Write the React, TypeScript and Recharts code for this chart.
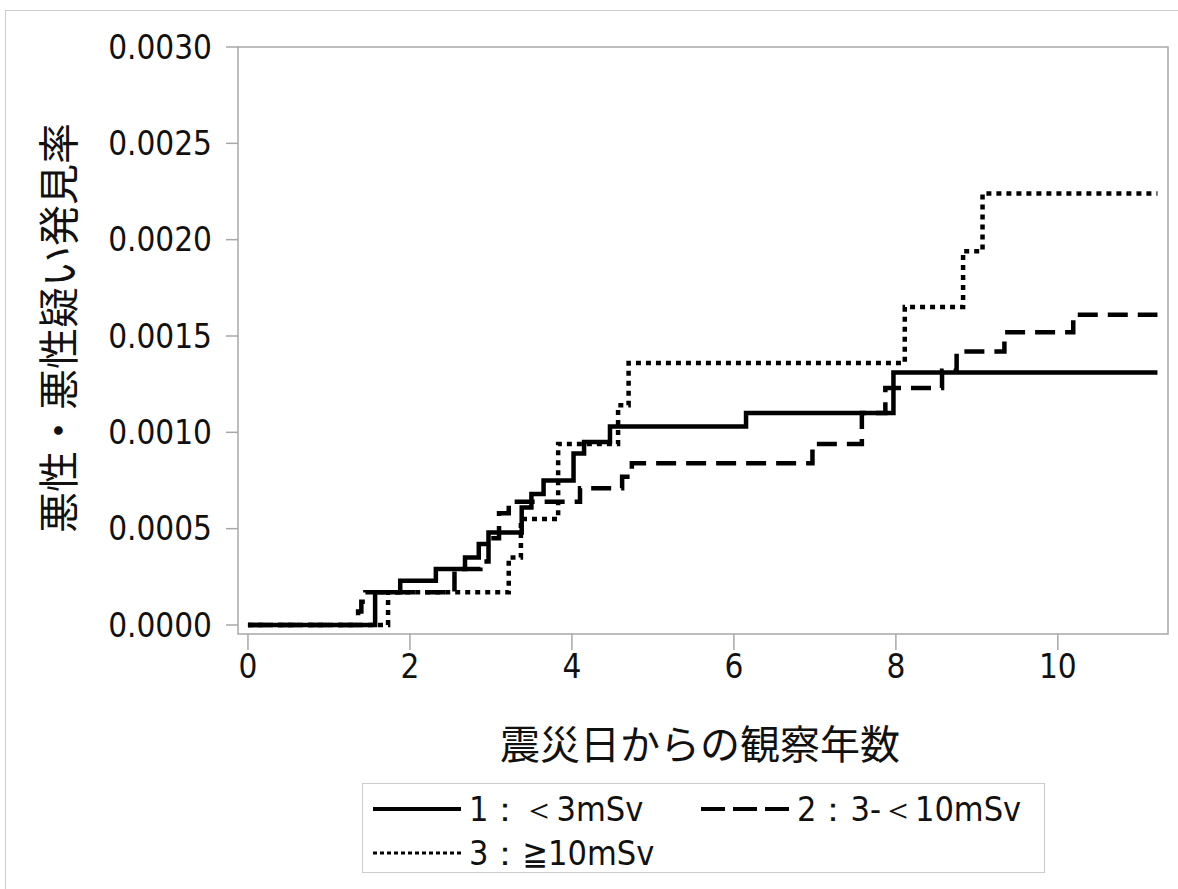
import React from 'react';
import { LineChart, Line, XAxis, YAxis, ReferenceArea } from 'recharts';

// group 1: <3mSv (solid)
const times1 = [0, 1.57, 1.88, 2.32, 2.68, 2.85, 2.97, 3.38, 3.5, 3.65, 4.02, 4.15, 4.47, 6.15, 7.97, 11.23];
const rates1 = [0, 0.00017, 0.00023, 0.00029, 0.00035, 0.00042, 0.00048, 0.00061, 0.00068, 0.00075, 0.00089, 0.00095, 0.00103, 0.0011, 0.00131, 0.00131];

// group 2: 3-<10mSv (dashed)
const times2 = [0, 1.36, 1.4, 1.45, 2.55, 2.87, 2.97, 3.1, 3.22, 4.1, 4.62, 4.74, 6.97, 7.58, 7.87, 8.57, 8.75, 9.34, 10.19, 11.23];
const rates2 = [0, 0.00007, 0.00012, 0.00017, 0.00029, 0.00033, 0.00045, 0.00058, 0.00064, 0.00071, 0.00077, 0.00084, 0.00094, 0.0011, 0.00123, 0.00132, 0.00142, 0.00152, 0.00161, 0.00161];

// group 3: >=10mSv (dotted)
const times3 = [0, 1.73, 3.22, 3.37, 3.83, 4.57, 4.7, 8.11, 8.83, 9.07, 11.23];
const rates3 = [0, 0.00017, 0.00035, 0.00055, 0.00094, 0.00114, 0.00136, 0.00165, 0.00194, 0.00224, 0.00224];

const xTicks = [0, 2, 4, 6, 8, 10];
const yTicks = [0, 0.0005, 0.001, 0.0015, 0.002, 0.0025, 0.003];

const legendLabels = ['1：＜3mSv', '2：3-＜10mSv', '3：≧10mSv'];

const X_DOMAIN: [number, number] = [-0.123, 11.36];
const Y_DOMAIN: [number, number] = [-0.0000468, 0.003];

const toSeries = (ts: number[], rs: number[]) => ts.map((t, i) => ({ t, rate: rs[i] }));

const tickFont = "'Liberation Sans Narrow', 'DejaVu Sans Condensed', 'Liberation Sans', sans-serif";
const jpFont = "'Noto Sans CJK JP', sans-serif";
const grey = '#a8a8a8';

function Sample({ dash, width = 4 }: { dash?: string; width?: number }) {
  return (
    <svg width={88} height={10} style={{ display: 'block' }}>
      <line x1={0} y1={5} x2={88} y2={5} stroke="#000" strokeWidth={width} strokeDasharray={dash} />
    </svg>
  );
}

export default function App() {
  const s1 = toSeries(times1, rates1);
  const s2 = toSeries(times2, rates2);
  const s3 = toSeries(times3, rates3);

  const legendText: React.CSSProperties = { fontFamily: tickFont, fontSize: 34, color: '#111', marginLeft: 8, lineHeight: '40px' };

  return (
    <div style={{ position: 'absolute', left: 0, top: 0, width: 1178, height: 889, overflow: 'hidden', background: '#fff' }}>
      <div style={{ position: 'absolute', left: 5, top: 10, width: 1300, height: 1000, border: '1px solid #ccc' }} />
      <LineChart width={1178} height={889} margin={{ top: 47, right: 10, left: 0, bottom: 0 }} style={{ position: 'absolute', left: 0, top: 0 }}>
        <ReferenceArea
          x1={X_DOMAIN[0]}
          x2={X_DOMAIN[1]}
          y1={Y_DOMAIN[0]}
          y2={Y_DOMAIN[1]}
          fill="none"
          stroke={grey}
          strokeWidth={1.5}
          fillOpacity={0}
        />
        <XAxis
          dataKey="t"
          type="number"
          domain={X_DOMAIN}
          ticks={xTicks}
          allowDataOverflow
          height={255}
          axisLine={false}
          tickLine={{ stroke: grey, strokeWidth: 1.5 }}
          tickSize={16}
          tickMargin={5}
          tick={{ fill: '#111', fontSize: 33, fontFamily: tickFont }}
          label={{
            content: () => (
              <text x={700} y={742} textAnchor="middle" dominantBaseline="central" fontSize={40} fontFamily={jpFont} fill="#111">
                震災日からの観察年数
              </text>
            ),
          }}
        />
        <YAxis
          type="number"
          domain={Y_DOMAIN}
          ticks={yTicks}
          allowDataOverflow
          width={238}
          axisLine={false}
          tickLine={{ stroke: grey, strokeWidth: 1.5 }}
          tickSize={12}
          tickMargin={14}
          tickFormatter={(v: number) => v.toFixed(4)}
          tick={{ fill: '#111', fontSize: 33, fontFamily: tickFont }}
          label={{
            content: () => (
              <text
                x={56}
                y={328}
                textAnchor="middle"
                dominantBaseline="central"
                fontSize={41}
                fontFamily={jpFont}
                fill="#111"
                transform="rotate(-90 56 328)"
              >
                悪性・悪性疑い発見率
              </text>
            ),
          }}
        />
        <Line data={s1} dataKey="rate" type="stepAfter" stroke="#000" strokeWidth={4.5} dot={false} isAnimationActive={false} />
        <Line data={s2} dataKey="rate" type="stepAfter" stroke="#000" strokeWidth={4.5} strokeDasharray="20 10" dot={false} isAnimationActive={false} />
        <Line data={s3} dataKey="rate" type="stepAfter" stroke="#000" strokeWidth={4.5} strokeDasharray="5 5" dot={false} isAnimationActive={false} />
      </LineChart>
      <div
        style={{
          position: 'absolute',
          left: 362,
          top: 783,
          width: 683,
          height: 90,
          border: '1.5px solid #ccc',
          boxSizing: 'border-box',
          padding: '3px 0 0 10px',
        }}
      >
        <div style={{ display: 'flex', alignItems: 'center', height: 44 }}>
          <Sample />
          <span style={{ ...legendText, width: 232 }}>{legendLabels[0]}</span>
          <Sample dash="24 8" />
          <span style={legendText}>{legendLabels[1]}</span>
        </div>
        <div style={{ display: 'flex', alignItems: 'center', height: 44 }}>
          <Sample dash="4 3" width={3} />
          <span style={legendText}>{legendLabels[2]}</span>
        </div>
      </div>
    </div>
  );
}
